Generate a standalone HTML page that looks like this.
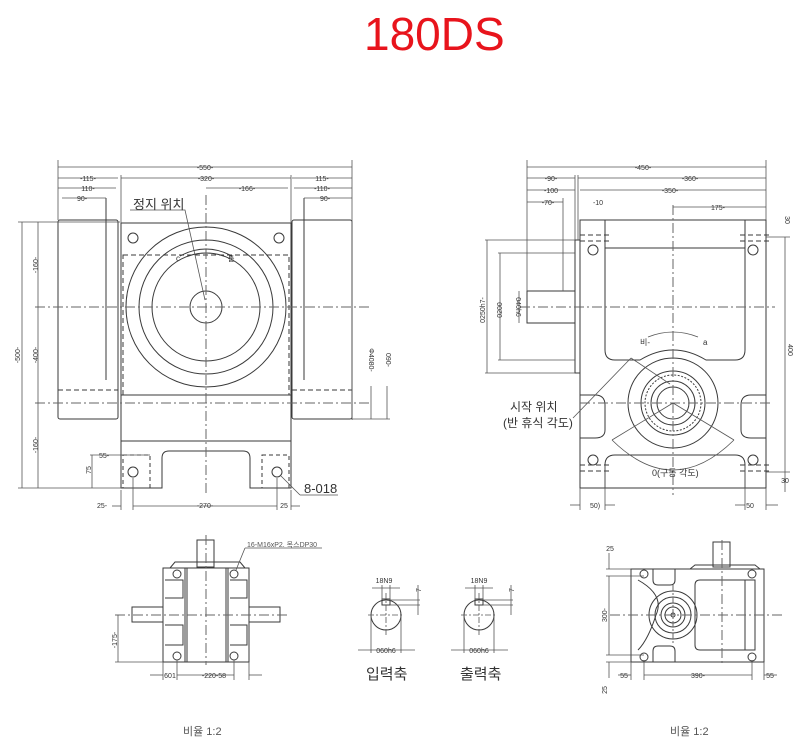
<!DOCTYPE html>
<html><head><meta charset="utf-8"><style>
html,body{margin:0;padding:0;background:#fff;}
svg{display:block;}
text{font-family:"Liberation Sans","Noto Sans CJK KR",sans-serif;fill:#333;}
.d{font-size:7px;fill:#555;}
</style></head><body>
<svg width="804" height="749" viewBox="0 0 804 749" xmlns="http://www.w3.org/2000/svg">
<text x="364" y="50" style="font-size:46px;fill:#e8141c">180DS</text>

<g fill="none" stroke="#3a3a3a" stroke-width="1">
<!-- ===== LEFT VIEW ===== -->
<rect x="58" y="220" width="60" height="199" rx="2"/>
<rect x="292" y="220" width="60" height="199" rx="2"/>
<line x1="58" y1="390" x2="118" y2="390" stroke-dasharray="5,3"/>
<line x1="292" y1="390" x2="352" y2="390" stroke-dasharray="5,3"/>
<line x1="106" y1="198" x2="106" y2="380"/>
<line x1="304" y1="198" x2="304" y2="380"/>
<path d="M121 223 H291 V488 H250 V458 Q250 451 243 451 H169 Q162 451 162 458 V488 H121 Z"/>
<line x1="121" y1="395" x2="291" y2="395"/>
<line x1="121" y1="441" x2="291" y2="441"/>
<rect x="123" y="255" width="166" height="140" stroke-dasharray="5,3"/>
<rect x="123" y="455" width="27" height="33" stroke-dasharray="4,3"/>
<rect x="262" y="455" width="27" height="33" stroke-dasharray="4,3"/>
<circle cx="206" cy="307" r="80"/>
<circle cx="206" cy="307" r="67"/>
<circle cx="206" cy="307" r="54"/>
<circle cx="206" cy="307" r="16"/>
<circle cx="133" cy="238" r="5"/><circle cx="279" cy="238" r="5"/>
<circle cx="133" cy="472" r="5"/><circle cx="277" cy="472" r="5"/>
<g stroke-dasharray="10,3,2,3" stroke="#666">
<line x1="35" y1="307" x2="370" y2="307"/>
<line x1="35" y1="403" x2="370" y2="403"/>
<line x1="206" y1="195" x2="206" y2="495"/>
</g>
<g stroke="#555" stroke-width="0.8">
<line x1="58" y1="167" x2="352" y2="167"/>
<line x1="58" y1="178" x2="118" y2="178"/><line x1="121" y1="178" x2="291" y2="178"/><line x1="292" y1="178" x2="352" y2="178"/>
<line x1="58" y1="188" x2="116" y2="188"/><line x1="206" y1="188" x2="288" y2="188"/><line x1="294" y1="188" x2="352" y2="188"/>
<line x1="62" y1="198" x2="106" y2="198"/><line x1="304" y1="198" x2="352" y2="198"/>
<line x1="58" y1="160" x2="58" y2="220"/><line x1="352" y1="160" x2="352" y2="420"/>
<line x1="121" y1="175" x2="121" y2="223"/><line x1="291" y1="175" x2="291" y2="223"/>
<line x1="18" y1="222" x2="120" y2="222"/><line x1="18" y1="488" x2="121" y2="488"/>
<line x1="22" y1="222" x2="22" y2="488"/><line x1="38" y1="222" x2="38" y2="488"/>
<line x1="371" y1="386" x2="371" y2="419"/><line x1="387" y1="386" x2="387" y2="419"/>
<line x1="352" y1="419" x2="390" y2="419"/>
<line x1="92" y1="455" x2="92" y2="488"/><line x1="90" y1="455" x2="150" y2="455"/>
<line x1="112" y1="506" x2="121" y2="506"/><line x1="133" y1="506" x2="277" y2="506"/><line x1="291" y1="506" x2="300" y2="506"/>
<line x1="121" y1="490" x2="121" y2="510"/><line x1="133" y1="478" x2="133" y2="510"/><line x1="277" y1="478" x2="277" y2="510"/><line x1="291" y1="490" x2="291" y2="510"/>
<line x1="281" y1="476" x2="300" y2="495"/><line x1="300" y1="495" x2="338" y2="495"/>
<polyline points="130,210 185,210 205,300"/>
</g>
<path d="M180 256 Q206 242 232 256"/>

<!-- ===== RIGHT VIEW ===== -->
<rect x="527" y="291" width="48" height="32"/>
<rect x="575" y="240" width="5" height="133"/>
<path d="M580 220 H766 V488 H580 Z"/>
<path d="M605 220 V350 Q605 360 615 360 H640 Q673 340 706 360 H735 Q745 360 745 350 V220"/>
<line x1="605" y1="248" x2="745" y2="248"/>
<path d="M580 395 H595 Q605 395 605 405 V430 Q605 438 595 438 H580"/>
<path d="M766 395 H751 Q741 395 741 405 V430 Q741 438 751 438 H766"/>
<path d="M605 488 V465 Q605 455 615 455 H735 Q745 455 745 465 V488"/>
<circle cx="673" cy="403" r="45"/>
<circle cx="673" cy="403" r="32"/>
<circle cx="673" cy="403" r="28" stroke-dasharray="2,1.5"/>
<circle cx="673" cy="403" r="22"/>
<circle cx="673" cy="403" r="16"/>
<circle cx="593" cy="250" r="5"/><circle cx="753" cy="250" r="5"/>
<circle cx="593" cy="460" r="5"/><circle cx="753" cy="460" r="5"/>
<path d="M580 235 H610 M580 241 H610 M740 235 H770 M740 241 H770 M580 465 H610 M580 471 H610 M740 465 H770 M740 471 H770" stroke-dasharray="5,3"/>
<g stroke-dasharray="10,3,2,3" stroke="#666">
<line x1="520" y1="307" x2="775" y2="307"/>
<line x1="580" y1="403" x2="770" y2="403"/>
<line x1="673" y1="205" x2="673" y2="495"/>
</g>
<g stroke="#555" stroke-width="0.8">
<line x1="527" y1="167" x2="766" y2="167"/><line x1="527" y1="178" x2="575" y2="178"/><line x1="578" y1="178" x2="766" y2="178"/>
<line x1="527" y1="190" x2="575" y2="190"/><line x1="580" y1="190" x2="766" y2="190"/>
<line x1="527" y1="202" x2="563" y2="202"/><line x1="673" y1="207" x2="766" y2="207"/>
<line x1="527" y1="160" x2="527" y2="291"/><line x1="766" y1="160" x2="766" y2="220"/>
<line x1="563" y1="198" x2="563" y2="291"/><line x1="575" y1="175" x2="575" y2="240"/><line x1="578" y1="175" x2="578" y2="240"/>
<line x1="485" y1="240" x2="575" y2="240"/><line x1="485" y1="373" x2="575" y2="373"/>
<line x1="487" y1="240" x2="487" y2="373"/><line x1="500" y1="253" x2="500" y2="360"/><line x1="498" y1="253" x2="575" y2="253"/><line x1="498" y1="360" x2="575" y2="360"/>
<line x1="519" y1="291" x2="519" y2="323"/>
<line x1="766" y1="237" x2="790" y2="237"/><line x1="766" y1="472" x2="790" y2="472"/>
<line x1="785" y1="237" x2="785" y2="472"/><line x1="785" y1="472" x2="785" y2="492"/>
<line x1="570" y1="505" x2="580" y2="505"/><line x1="605" y1="505" x2="615" y2="505"/>
<line x1="735" y1="505" x2="745" y2="505"/><line x1="766" y1="505" x2="778" y2="505"/>
<line x1="580" y1="488" x2="580" y2="510"/><line x1="605" y1="465" x2="605" y2="510"/><line x1="745" y1="465" x2="745" y2="510"/><line x1="766" y1="488" x2="766" y2="510"/>
<line x1="573" y1="418" x2="631" y2="358"/><line x1="631" y1="358" x2="670" y2="384"/>
<line x1="673" y1="403" x2="612" y2="440"/><line x1="673" y1="403" x2="734" y2="440"/>
<path d="M612 440 Q673 500 734 440"/>
<path d="M648 337 Q673 327 698 337"/>
</g>

<!-- ===== BOTTOM LEFT ===== -->
<rect x="197" y="540" width="17" height="27"/>
<rect x="163" y="568" width="86" height="94"/>
<path d="M170 568 L175 562 H240 L245 568"/>
<rect x="132" y="607" width="31" height="15"/><rect x="249" y="607" width="31" height="15"/>
<line x1="185" y1="568" x2="185" y2="662"/><line x1="228" y1="568" x2="228" y2="662"/>
<line x1="187" y1="568" x2="187" y2="662"/><line x1="226" y1="568" x2="226" y2="662"/>
<path d="M165 580 H183 V598 H165 M165 625 H183 V645 H165 M230 580 H247 V598 H230 M230 625 H247 V645 H230"/>
<circle cx="177" cy="574" r="4"/><circle cx="234" cy="574" r="4"/><circle cx="177" cy="656" r="4"/><circle cx="234" cy="656" r="4"/>
<line x1="115" y1="615" x2="290" y2="615" stroke-dasharray="10,3,2,3" stroke="#666"/>
<line x1="206" y1="535" x2="206" y2="665" stroke-dasharray="10,3,2,3" stroke="#666"/>
<g stroke="#555" stroke-width="0.8">
<line x1="115" y1="662" x2="163" y2="662"/><line x1="118" y1="615" x2="118" y2="662"/>
<line x1="150" y1="675" x2="163" y2="675"/><line x1="177" y1="675" x2="234" y2="675"/><line x1="249" y1="675" x2="262" y2="675"/>
<line x1="163" y1="662" x2="163" y2="680"/><line x1="177" y1="660" x2="177" y2="680"/><line x1="234" y1="660" x2="234" y2="680"/><line x1="249" y1="662" x2="249" y2="680"/>
<line x1="236" y1="570" x2="245" y2="548"/><line x1="245" y1="548" x2="322" y2="548"/>
</g>

<!-- shafts -->
<circle cx="386" cy="615" r="15"/><circle cx="479" cy="615" r="15"/>
<rect x="382" y="599" width="8" height="6"/><rect x="475" y="599" width="8" height="6"/>
<g stroke="#555" stroke-width="0.8">
<line x1="368" y1="615" x2="404" y2="615" stroke-dasharray="6,2,2,2"/><line x1="386" y1="593" x2="386" y2="635" stroke-dasharray="6,2,2,2"/>
<line x1="461" y1="615" x2="497" y2="615" stroke-dasharray="6,2,2,2"/><line x1="479" y1="593" x2="479" y2="635" stroke-dasharray="6,2,2,2"/>
<line x1="382" y1="585" x2="382" y2="600"/><line x1="390" y1="585" x2="390" y2="600"/><line x1="372" y1="588" x2="400" y2="588"/>
<line x1="475" y1="585" x2="475" y2="600"/><line x1="483" y1="585" x2="483" y2="600"/><line x1="465" y1="588" x2="493" y2="588"/>
<line x1="390" y1="600" x2="420" y2="600"/><line x1="390" y1="605" x2="420" y2="605"/><line x1="418" y1="585" x2="418" y2="615"/>
<line x1="483" y1="600" x2="513" y2="600"/><line x1="483" y1="605" x2="513" y2="605"/><line x1="511" y1="585" x2="511" y2="615"/>
<line x1="371" y1="615" x2="371" y2="653"/><line x1="401" y1="615" x2="401" y2="653"/><line x1="358" y1="650" x2="415" y2="650"/>
<line x1="464" y1="615" x2="464" y2="653"/><line x1="494" y1="615" x2="494" y2="653"/><line x1="451" y1="650" x2="508" y2="650"/>
</g>

<!-- ===== BOTTOM RIGHT ===== -->
<rect x="713" y="542" width="17" height="25"/>
<path d="M690 569 L695 565 H755 L760 569"/>
<rect x="631" y="569" width="133" height="93"/>
<path d="M653 569 V580 Q653 585 658 585 H670 Q675 585 675 580 V569 M653 662 V651 Q653 646 658 646 H670 Q675 646 675 651 V662"/>
<path d="M638 580 Q665 595 656 615 Q648 640 638 650"/>
<path d="M700 580 H755 V650 H700 Q695 650 695 645 V585 Q695 580 700 580 Z"/>
<line x1="745" y1="580" x2="745" y2="650"/>
<circle cx="673" cy="615" r="24"/><circle cx="673" cy="615" r="18"/><circle cx="673" cy="615" r="12"/><circle cx="673" cy="615" r="8"/><circle cx="673" cy="615" r="2"/>
<circle cx="644" cy="574" r="4"/><circle cx="752" cy="574" r="4"/><circle cx="644" cy="657" r="4"/><circle cx="752" cy="657" r="4"/>
<line x1="610" y1="615" x2="785" y2="615" stroke-dasharray="10,3,2,3" stroke="#666"/>
<line x1="673" y1="585" x2="673" y2="645" stroke-dasharray="6,2,2,2" stroke="#666"/>
<line x1="722" y1="540" x2="722" y2="665" stroke-dasharray="10,3,2,3" stroke="#666"/>
<g stroke="#555" stroke-width="0.8">
<line x1="606" y1="569" x2="631" y2="569"/><line x1="606" y1="576" x2="644" y2="576"/><line x1="606" y1="655" x2="644" y2="655"/><line x1="606" y1="662" x2="631" y2="662"/>
<line x1="609" y1="553" x2="609" y2="569"/><line x1="609" y1="576" x2="609" y2="655"/><line x1="609" y1="662" x2="609" y2="678"/>
<line x1="618" y1="675" x2="631" y2="675"/><line x1="644" y1="675" x2="752" y2="675"/><line x1="764" y1="675" x2="777" y2="675"/>
<line x1="631" y1="662" x2="631" y2="680"/><line x1="644" y1="660" x2="644" y2="680"/><line x1="752" y1="660" x2="752" y2="680"/><line x1="764" y1="662" x2="764" y2="680"/>
</g>
</g>

<!-- labels -->
<g class="d" text-anchor="middle">
<text x="205" y="170">-550-</text><text x="88" y="181">-115-</text><text x="206" y="181">-320-</text><text x="322" y="181">115-</text>
<text x="88" y="191">110-</text><text x="247" y="191">-166-</text><text x="322" y="191">-110-</text>
<text x="82" y="201">90-</text><text x="325" y="201">90-</text>
<text x="205" y="508">-270-</text><text x="102" y="508">25-</text><text x="284" y="508">25</text><text x="104" y="458">55-</text>
<text x="643" y="170">-450-</text><text x="551" y="181">-90-</text><text x="690" y="181">-360-</text>
<text x="551" y="193">-100</text><text x="670" y="193">-350-</text><text x="548" y="205">-70-</text><text x="598" y="205">-10</text><text x="718" y="210">175-</text>
<text x="595" y="508">50)</text><text x="750" y="508">50</text><text x="785" y="483">30</text>
<text x="384" y="583">18N9</text><text x="479" y="583">18N9</text>
<text x="386" y="653">060h6</text><text x="479" y="653">060h6</text>
<text x="170" y="678">601</text><text x="214" y="678">-220-58</text>
<text x="624" y="678">55</text><text x="698" y="678">390-</text><text x="770" y="678">55</text>
<text x="610" y="551">25</text>
</g>
<g class="d" text-anchor="middle">
<text transform="translate(20,355) rotate(-90)">-500-</text>
<text transform="translate(38,265) rotate(-90)">-160-</text>
<text transform="translate(38,355) rotate(-90)">-400-</text>
<text transform="translate(38,445) rotate(-90)">-160-</text>
<text transform="translate(91,470) rotate(-90)">75</text>
<text transform="translate(369,360) rotate(90)">Φ4080-</text>
<text transform="translate(386,360) rotate(90)">090-</text>
<text transform="translate(485,310) rotate(-90)">0250h7-</text>
<text transform="translate(502,310) rotate(-90)">0200</text>
<text transform="translate(516,307) rotate(90)">040h6</text>
<text transform="translate(788,350) rotate(90)">400</text>
<text transform="translate(785,220) rotate(90)">30</text>
<text transform="translate(117,640) rotate(-90)">-175-</text>
<text transform="translate(607,615) rotate(-90)">300-</text>
<text transform="translate(607,690) rotate(-90)">25</text>
<text transform="translate(421,590) rotate(-90)">7</text>
<text transform="translate(514,590) rotate(-90)">7</text>
</g>
<text x="247" y="547" class="d" style="font-size:7px">16-M16xP2. 목스DP30</text>
<text x="133" y="209" style="font-size:13px">정지 위치</text>
<text x="304" y="493" style="font-size:13px">8-018</text>
<text x="510" y="411" style="font-size:12px">시작 위치</text>
<text x="503" y="427" style="font-size:12px">(반 휴식 각도)</text>
<text x="652" y="476" style="font-size:9px">0(구동 각도)</text>
<text x="640" y="345" style="font-size:8px">비-</text><text x="703" y="345" style="font-size:8px">a</text>
<text x="176" y="261" style="font-size:8px">c</text><text x="228" y="261" style="font-size:7px">톱</text>
<text x="366" y="679" style="font-size:15px">입력축</text>
<text x="460" y="679" style="font-size:15px">출력축</text>
<text x="183" y="735" style="font-size:11px;fill:#555">비율 1:2</text>
<text x="670" y="735" style="font-size:11px;fill:#555">비율 1:2</text>
</svg>
</body></html>
